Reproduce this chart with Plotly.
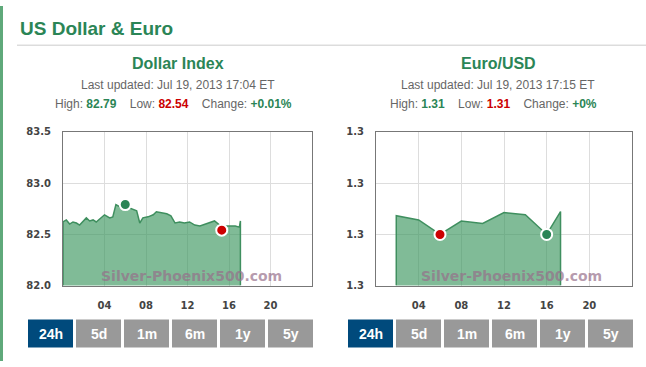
import plotly.graph_objects as go

W, H = 646, 367

# ---------------- data ----------------
dxy_hours = [0.0, 0.32, 0.64, 0.96, 1.29, 1.6, 1.93, 2.25, 2.57, 2.9, 3.2, 3.5, 4.0, 4.5, 4.8,
             5.1, 5.5, 5.8, 6.3, 6.75, 7.1, 7.4, 7.7, 8.2, 8.7, 9.0, 9.5, 10.0, 10.4, 10.8,
             11.25, 11.7, 12.2, 12.7, 13.2, 13.7, 14.1, 14.6, 15.1, 15.6, 16.1, 16.6, 17.0, 17.1]
dxy_values = [82.62, 82.64, 82.60, 82.62, 82.61, 82.59, 82.63, 82.66, 82.63, 82.64, 82.62, 82.65,
              82.69, 82.66, 82.67, 82.79, 82.77, 82.75, 82.76, 82.74, 82.73, 82.61, 82.66, 82.67,
              82.69, 82.72, 82.71, 82.70, 82.68, 82.61, 82.62, 82.61, 82.62, 82.59, 82.58, 82.60,
              82.61, 82.63, 82.59, 82.58, 82.58, 82.58, 82.57, 82.63]
dxy_high = (6.0, 82.79)
dxy_low = (15.3, 82.54)
dxy_range = [82.0, 83.5]

eur_hours = [1.9, 4.0, 6.0, 8.0, 10.0, 12.0, 14.0, 16.0, 17.3]
eur_values = [1.31209, 1.31184, 1.31099, 1.31177, 1.31163, 1.31227, 1.31214, 1.31099, 1.31233]
eur_low = (6.0, 1.31099)
eur_high = (16.0, 1.31099)
eur_range = [1.308, 1.317]

x_tickvals = [4, 8, 12, 16, 20]
x_ticktext = ["04", "08", "12", "16", "20"]
buttons = ["24h", "5d", "1m", "6m", "1y", "5y"]

GREEN = "#2b8556"
LINE = "#3f8f5f"
FILL = "rgba(60,150,95,0.65)"
RED = "#cc0000"


def px(x):
    return x / W


def py(y):
    return 1 - y / H


fig = go.Figure()


def add_series(hours, vals, yr, xa, ya):
    xs = [hours[0]] + hours + [hours[-1]]
    ys = [yr[0]] + vals + [yr[0]]
    fig.add_trace(go.Scatter(x=xs, y=ys, mode="lines", fill="tozeroy",
                             line=dict(color=LINE, width=1.5), fillcolor=FILL,
                             xaxis=xa, yaxis=ya, hoverinfo="skip", showlegend=False))


def add_marker(pt, color, xa, ya):
    fig.add_trace(go.Scatter(x=[pt[0]], y=[pt[1]], mode="markers",
                             marker=dict(color=color, size=11, line=dict(color="white", width=2)),
                             xaxis=xa, yaxis=ya, showlegend=False, hoverinfo="skip"))


add_series(dxy_hours, dxy_values, dxy_range, "x", "y")
add_marker(dxy_high, GREEN, "x", "y")
add_marker(dxy_low, RED, "x", "y")
add_series(eur_hours, eur_values, eur_range, "x2", "y2")
add_marker(eur_low, RED, "x2", "y2")
add_marker(eur_high, GREEN, "x2", "y2")

tickfont = dict(family="DejaVu Sans", size=10, color="#444", weight="bold")
common_x = dict(range=[0, 24], tickvals=x_tickvals, ticktext=x_ticktext, showgrid=True,
                gridcolor="#dddddd", gridwidth=1, showline=True, mirror=True, linecolor="#777",
                linewidth=1, zeroline=False, tickfont=tickfont, ticks="", ticklabelstandoff=10,
                fixedrange=True)
common_y = dict(showgrid=True, gridcolor="#dddddd", gridwidth=1, showline=True, mirror=True,
                linecolor="#777", linewidth=1, zeroline=False, tickfont=tickfont, ticks="",
                tickformat=".1f", ticklabelstandoff=9, fixedrange=True)

y_dom = [py(289), py(130)]
fig.update_layout(
    width=W, height=H, margin=dict(l=0, r=0, t=0, b=0),
    paper_bgcolor="white", plot_bgcolor="white",
    xaxis=dict(domain=[px(63), px(312)], anchor="y", **common_x),
    yaxis=dict(domain=y_dom, anchor="x", range=dxy_range, dtick=0.5, **common_y),
    xaxis2=dict(domain=[px(376), px(632)], anchor="y2", **common_x),
    yaxis2=dict(domain=y_dom, anchor="x2", range=eur_range, dtick=0.003, **common_y),
)

shapes = [
    dict(type="rect", xref="paper", yref="paper", x0=0, x1=px(3), y0=0, y1=1,
         fillcolor="#5fa97a", line=dict(width=0)),
    dict(type="line", xref="paper", yref="paper", x0=px(17), x1=1, y0=py(40.5), y1=py(40.5),
         line=dict(color="#cccccc", width=1)),
]
annotations = []


def ann(x, y, text, size, color, bold=False, family="Liberation Sans", xanchor="center"):
    t = f"<b>{text}</b>" if bold else text
    annotations.append(dict(x=px(x), y=py(y), xref="paper", yref="paper", text=t,
                            showarrow=False, xanchor=xanchor, yanchor="middle",
                            font=dict(family=family, size=size, color=color)))


ann(18, 23, "US Dollar &amp; Euro", 19, GREEN, bold=True, xanchor="left")

panels = [
    dict(cx=178, title="Dollar Index", updated="Last updated: Jul 19, 2013 17:04 ET",
         high="82.79", low="82.54", change="+0.01%", bx=28, wx=191),
    dict(cx=498, title="Euro/USD", updated="Last updated: Jul 19, 2013 17:15 ET",
         high="1.31", low="1.31", change="+0%", bx=348, wx=511),
]
for p in panels:
    ann(p["cx"], 59, p["title"], 16, GREEN, bold=True)
    ann(p["cx"], 82, p["updated"], 12, "#666")
    stats = (f"High: <b><span style='color:{GREEN}'>{p['high']}</span></b>&nbsp;&nbsp;&nbsp;&nbsp;"
             f"Low: <b><span style='color:{RED}'>{p['low']}</span></b>&nbsp;&nbsp;&nbsp;&nbsp;"
             f"Change: <b><span style='color:{GREEN}'>{p['change']}</span></b>")
    ann(p["cx"] - 5, 101, stats, 12, "#666")
    ann(p["wx"], 279, "Silver-Phoenix500.com", 14, "rgba(150,110,138,0.7)", bold=True,
        family="DejaVu Sans")
    for i, b in enumerate(buttons):
        x0 = p["bx"] + i * 48
        x1 = x0 + 45
        shapes.append(dict(type="rect", xref="paper", yref="paper", x0=px(x0), x1=px(x1),
                           y0=py(353), y1=py(324),
                           fillcolor="#004a7c" if i == 0 else "#999999", line=dict(width=0)))
        ann((x0 + x1) / 2, 339, b, 14, "white", bold=True,
            family="Liberation Sans Narrow, Liberation Sans")

fig.update_layout(shapes=shapes, annotations=annotations)
post = ("document.documentElement.style.margin='0';document.documentElement.style.padding='0';"
        "document.body.style.margin='0';document.body.style.padding='0';"
        "document.body.style.overflow='hidden';"
        "var d=document.getElementById('{plot_id}');d.style.position='fixed';"
        "d.style.top='0px';d.style.left='0px';")
fig.write_html("out.html", config={"displayModeBar": False, "staticPlot": True}, post_script=post)
